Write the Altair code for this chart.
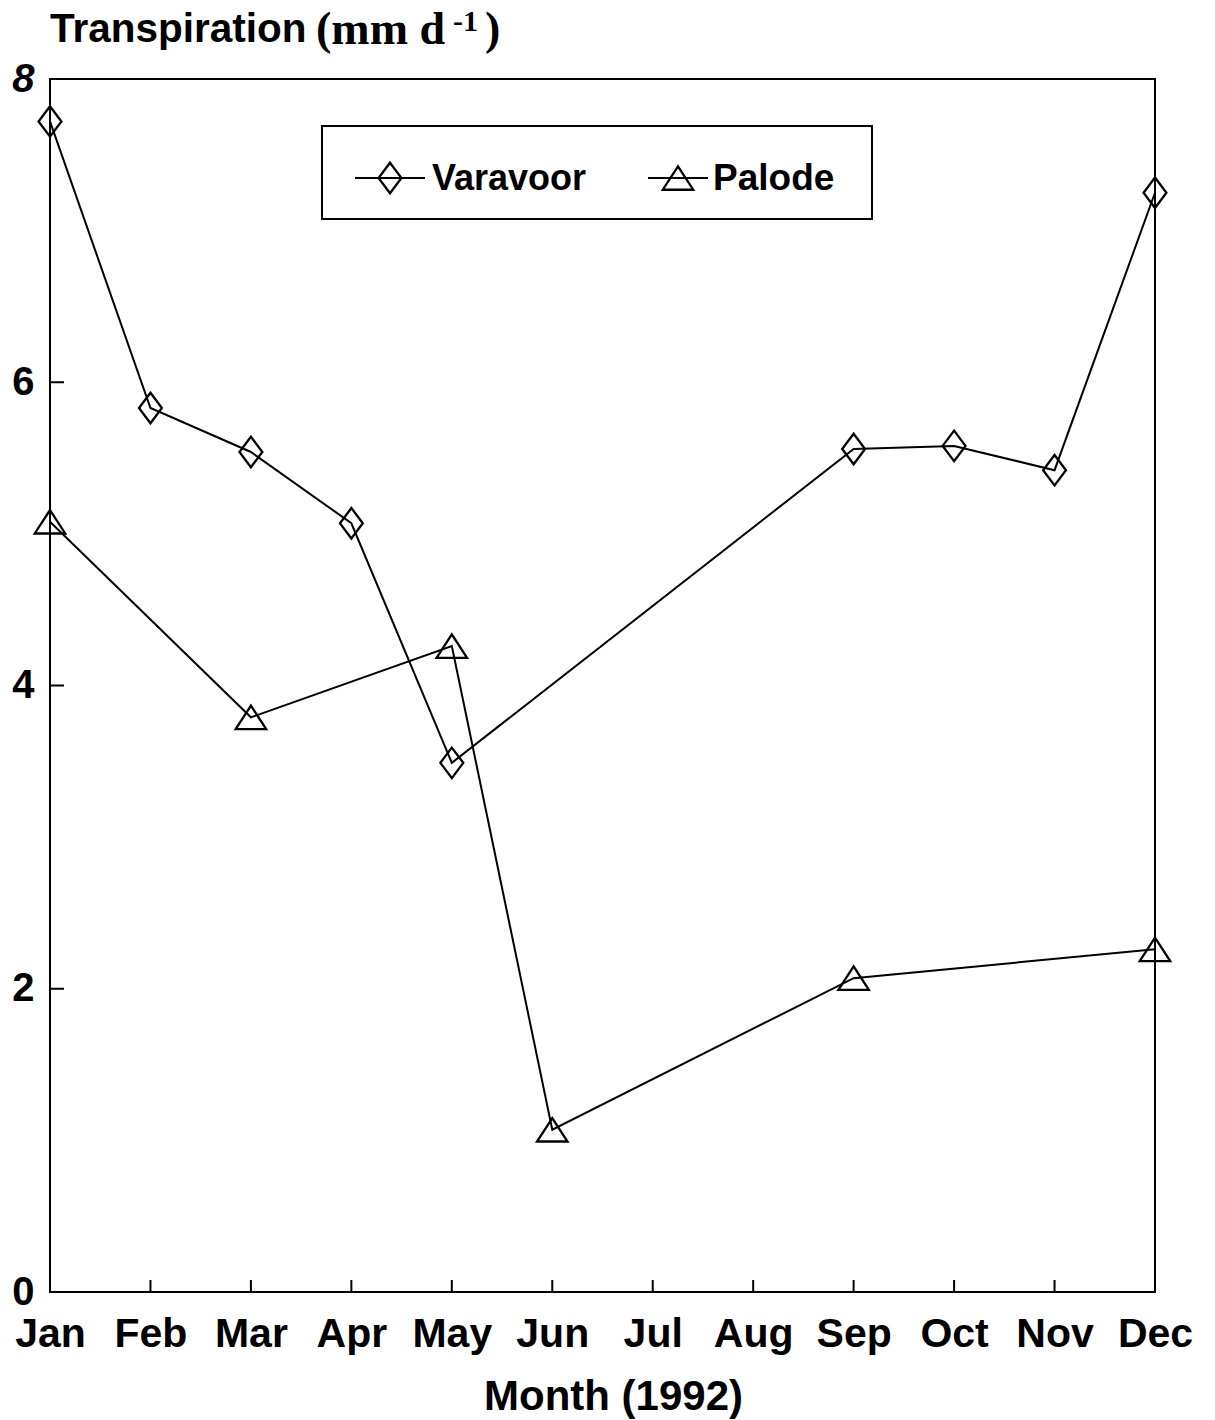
import json
import altair as alt
import pandas as pd

months = ["Jan", "Feb", "Mar", "Apr", "May", "Jun", "Jul", "Aug", "Sep", "Oct", "Nov", "Dec"]
series = ["Varavoor", "Palode"]
varavoor_months = ["Jan", "Feb", "Mar", "Apr", "May", "Sep", "Oct", "Nov", "Dec"]
varavoor_values = [7.72, 5.83, 5.54, 5.07, 3.49, 5.56, 5.58, 5.42, 7.25]
palode_months = ["Jan", "Mar", "May", "Jun", "Sep", "Dec"]
palode_values = [5.08, 3.79, 4.26, 1.07, 2.07, 2.26]
y_ticks = [0, 2, 4, 6, 8]
inner_y_ticks = [2, 4, 6]
inner_months = months[1:-1]

W, H = 1105, 1213
FONT = "Liberation Sans"
SERIF = "Liberation Serif"
DIAMOND = "M0,-1L0.75,0L0,1L-0.75,0Z"
TRIANGLE = "M0,-0.77L1,0.77L-1,0.77Z"

rows = [{"series": "Varavoor", "mi": months.index(m), "value": v} for m, v in zip(varavoor_months, varavoor_values)]
rows += [{"series": "Palode", "mi": months.index(m), "value": v} for m, v in zip(palode_months, palode_values)]
df = pd.DataFrame(rows)

x_scale = alt.Scale(domain=[0, len(months) - 1], nice=False, zero=False)
y_scale = alt.Scale(domain=[0, 8], nice=False, zero=False)

x_enc = alt.X(
    "mi:Q", scale=x_scale,
    axis=alt.Axis(
        title="Month (1992)", values=list(range(len(months))),
        labelExpr=json.dumps(months) + "[datum.value]",
        labelAngle=0, labelFont=FONT, labelFontWeight="bold", labelFlush=False,
        labelFontSize=41, labelColor="black", labelPadding=22, ticks=False, domain=False,
        titleFont=FONT, titleFontSize=42, titleFontWeight="bold", titleColor="black",
        titlePadding=22, titleX=563, grid=False,
    ),
)
y_enc = alt.Y(
    "value:Q", scale=y_scale,
    axis=alt.Axis(
        values=y_ticks, title=None, labelFont=FONT, labelFontWeight="bold", labelFontSize=40,
        labelColor="black", labelPadding=16, ticks=False, domain=False, grid=False, labelFlush=False,
        labelFontStyle=alt.condition("datum.value == 8", alt.value("italic"), alt.value("normal")),
    ),
)

base = alt.Chart(df)
lines = base.mark_line(color="black", strokeWidth=2).encode(x=x_enc, y=y_enc, detail="series:N")
points = base.mark_point(filled=False, color="black", strokeWidth=2.3, size=930, opacity=1).encode(
    x=x_enc, y=y_enc,
    shape=alt.Shape("series:N", scale=alt.Scale(domain=series, range=[DIAMOND, TRIANGLE]), legend=None),
)

xticks = alt.Chart(pd.DataFrame({"mi": [months.index(m) for m in inner_months]})).mark_rule(
    color="black", strokeWidth=2
).encode(x=x_enc, y=alt.value(H), y2=alt.value(H - 12))
yticks = alt.Chart(pd.DataFrame({"value": inner_y_ticks})).mark_rule(color="black", strokeWidth=2).encode(
    y=y_enc, x=alt.value(0), x2=alt.value(14)
)

one = alt.Data(values=[{"a": 1}])
legend_box = alt.Chart(one).mark_rect(fillOpacity=0, stroke="black", strokeWidth=2).encode(
    x=alt.value(272), x2=alt.value(822), y=alt.value(47), y2=alt.value(140)
)
leg_line1 = alt.Chart(one).mark_rule(color="black", strokeWidth=2).encode(
    x=alt.value(305), x2=alt.value(375), y=alt.value(99)
)
leg_line2 = alt.Chart(one).mark_rule(color="black", strokeWidth=2).encode(
    x=alt.value(598), x2=alt.value(658), y=alt.value(99)
)
leg_pt1 = alt.Chart(one).mark_point(filled=False, color="black", strokeWidth=2.3, size=930, opacity=1).encode(
    x=alt.value(340), y=alt.value(99), shape=alt.value(DIAMOND)
)
leg_pt2 = alt.Chart(one).mark_point(filled=False, color="black", strokeWidth=2.3, size=930, opacity=1).encode(
    x=alt.value(628), y=alt.value(99), shape=alt.value(TRIANGLE)
)
leg_t1 = alt.Chart(pd.DataFrame({"t": [series[0]]})).mark_text(
    font=FONT, fontWeight="bold", fontSize=36, align="left", baseline="middle", color="black"
).encode(x=alt.value(382), y=alt.value(100), text="t:N")
leg_t2 = alt.Chart(pd.DataFrame({"t": [series[1]]})).mark_text(
    font=FONT, fontWeight="bold", fontSize=37, align="left", baseline="middle", color="black"
).encode(x=alt.value(663), y=alt.value(100), text="t:N")

def label(text, x, y, font, size, style="normal"):
    return alt.Chart(pd.DataFrame({"t": [text]})).mark_text(
        font=font, fontWeight="bold", fontSize=size, align="left", baseline="alphabetic",
        color="black", fontStyle=style,
    ).encode(x=alt.value(x), y=alt.value(y), text="t:N")

title1 = label("Transpiration", 0, -37, FONT, 40.5)
title2 = label("(mm d", 266, -35, SERIF, 46)
title3 = label("-1", 403, -48, SERIF, 30)
title4 = label(")", 435, -35, SERIF, 46)

chart = alt.layer(
    lines, points, xticks, yticks, legend_box, leg_line1, leg_line2, leg_pt1, leg_pt2,
    leg_t1, leg_t2, title1, title2, title3, title4,
).properties(
    width=W, height=H,
    autosize=alt.AutoSizeParams(type="none"),
    padding={"left": 50, "top": 79, "right": 60, "bottom": 128},
    background="white",
).configure_view(stroke="black", strokeWidth=2)

chart.save("out.html", embed_options={"renderer": "svg", "actions": False})
